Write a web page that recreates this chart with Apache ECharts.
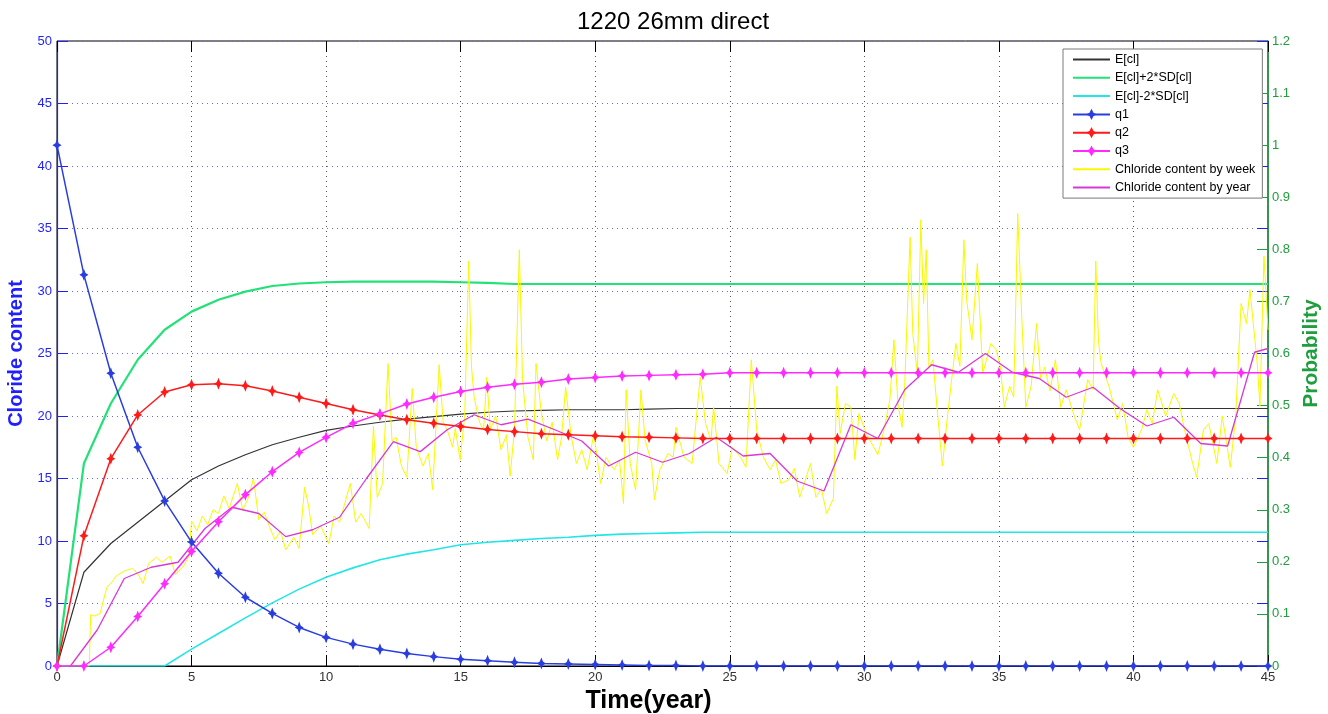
<!DOCTYPE html>
<html><head><meta charset="utf-8">
<script src="https://cdn.jsdelivr.net/npm/echarts@6/dist/echarts.min.js"></script>
<style>html,body{margin:0;padding:0;background:#fff}#c{width:1328px;height:714px}</style>
</head><body><div id="c"></div>
<script>
// ---------- data ----------
const years = [0,1,2,3,4,5,6,7,8,9,10,11,12,13,14,15,16,17,18,19,20,21,22,23,24,25,26,27,28,29,30,31,32,33,34,35,36,37,38,39,40,41,42,43,44,45];
// expected chloride and +/- 2SD (left axis)
const eCl      = [0,7.5,9.8,11.5,13.2,14.9,16.0,16.9,17.7,18.3,18.85,19.2,19.5,19.75,19.95,20.15,20.3,20.4,20.45,20.5,20.5,20.5,20.55,20.6,20.6,20.6,20.6,20.6,20.6,20.6,20.6,20.6,20.6,20.6,20.6,20.6,20.6,20.6,20.6,20.6,20.6,20.6,20.6,20.6,20.6,20.6];
const ePlus2SD = [0,16.2,21.0,24.5,26.9,28.35,29.3,29.95,30.4,30.6,30.7,30.75,30.75,30.75,30.75,30.7,30.65,30.56,30.56,30.56,30.56,30.56,30.56,30.56,30.56,30.56,30.56,30.56,30.56,30.56,30.56,30.56,30.56,30.56,30.56,30.56,30.56,30.56,30.56,30.56,30.56,30.56,30.56,30.56,30.56,30.56];
const eMinus2SD= [0,0,0,0,0,1.35,2.6,3.85,5.05,6.15,7.1,7.85,8.5,8.95,9.3,9.7,9.9,10.05,10.2,10.3,10.45,10.55,10.6,10.65,10.7,10.7,10.7,10.7,10.7,10.7,10.7,10.7,10.7,10.7,10.7,10.7,10.7,10.7,10.7,10.7,10.7,10.7,10.7,10.7,10.7,10.7];
// probabilities (right axis)
const q1 = [1.0,0.751,0.562,0.42,0.317,0.238,0.178,0.132,0.101,0.074,0.055,0.042,0.032,0.024,0.018,0.013,0.01,0.007,0.005,0.004,0.003,0.002,0.001,0.001,0,0,0,0,0,0,0,0,0,0,0,0,0,0,0,0,0,0,0,0,0,0];
const q2 = [0,0.25,0.398,0.482,0.526,0.54,0.542,0.538,0.528,0.516,0.504,0.492,0.482,0.473,0.466,0.46,0.454,0.45,0.446,0.444,0.442,0.44,0.439,0.438,0.437,0.437,0.437,0.437,0.437,0.437,0.437,0.437,0.437,0.437,0.437,0.437,0.437,0.437,0.437,0.437,0.437,0.437,0.437,0.437,0.437,0.437];
const q3 = [0,0,0.036,0.095,0.158,0.22,0.277,0.329,0.373,0.41,0.439,0.466,0.484,0.503,0.516,0.527,0.535,0.541,0.545,0.551,0.554,0.557,0.558,0.559,0.56,0.563,0.563,0.563,0.563,0.563,0.563,0.563,0.563,0.563,0.563,0.563,0.563,0.563,0.563,0.563,0.563,0.563,0.563,0.563,0.563,0.563];
// chloride content by year (vertices at mid-year)
const yearT = [0.5,1.5,2.5,3.5,4.5,5.5,6.5,7.5,8.5,9.5,10.5,11.5,12.5,13.5,14.5,15.5,16.5,17.5,18.5,19.5,20.5,21.5,22.5,23.5,24.5,25.5,26.5,27.5,28.5,29.5,30.5,31.5,32.5,33.5,34.5,35.5,36.5,37.5,38.5,39.5,40.5,41.5,42.5,43.5,44.5,45];
const yearV = [0,2.9,7.0,7.9,8.3,11.0,12.7,12.2,10.35,10.9,11.9,15.0,17.95,17.15,18.9,20.1,19.3,19.75,18.9,18.0,16.0,17.1,16.3,17.0,18.3,16.8,17.0,14.8,14.0,19.3,18.2,22.1,24.1,23.5,25.0,23.5,23.0,21.5,22.3,20.6,19.2,19.9,17.8,17.6,25.1,25.4];
// chloride content by week ([time, value])
const weekly = [[0,0],[1.2,0],[1.25,4.1],[1.4,4.0],[1.6,4.2],[1.85,6.3],[2.0,6.6],[2.2,7.2],[2.5,7.6],[2.8,7.8],[3.0,7.4],[3.2,6.6],[3.4,8.2],[3.7,8.7],[3.9,8.3],[4.2,8.8],[4.4,7.3],[4.7,8.0],[4.9,8.8],[5.0,11.6],[5.2,10.8],[5.4,12.0],[5.6,11.3],[5.8,12.5],[6.0,12.2],[6.2,13.6],[6.4,12.6],[6.7,14.6],[6.9,12.5],[7.1,13.4],[7.3,15.0],[7.5,11.7],[7.7,12.3],[7.9,11.1],[8.1,10.1],[8.3,10.8],[8.5,9.3],[8.8,10.3],[9.0,9.4],[9.2,14.3],[9.35,12.8],[9.5,10.5],[9.8,11.2],[10.1,9.8],[10.3,12.0],[10.5,11.5],[10.9,14.6],[11.1,11.5],[11.3,12.2],[11.6,11.0],[11.76,19.2],[11.9,13.5],[12.1,14.6],[12.3,24.2],[12.45,18.0],[12.6,18.3],[12.8,16.0],[13.0,15.1],[13.2,22.2],[13.35,17.5],[13.6,16.0],[13.8,17.0],[13.96,14.1],[14.2,24.1],[14.35,19.5],[14.5,18.9],[14.7,17.5],[14.8,19.0],[14.98,16.5],[15.15,20.0],[15.3,32.4],[15.4,24.0],[15.5,21.5],[15.7,19.5],[15.85,18.9],[15.97,23.1],[16.1,18.9],[16.3,20.0],[16.5,17.3],[16.7,18.5],[16.84,15.2],[17.0,19.0],[17.18,33.3],[17.3,22.9],[17.5,18.3],[17.7,16.5],[17.8,24.2],[18.0,20.2],[18.2,18.0],[18.4,19.5],[18.6,16.5],[18.75,18.3],[18.9,22.3],[19.1,18.5],[19.3,16.2],[19.5,17.3],[19.7,15.7],[19.95,18.6],[20.2,14.6],[20.4,16.7],[20.7,15.7],[20.9,16.5],[21.05,13.0],[21.15,22.1],[21.3,16.2],[21.5,14.1],[21.7,22.1],[21.85,18.1],[22.1,16.2],[22.2,13.3],[22.4,15.7],[22.7,17.0],[22.9,16.7],[23.0,19.1],[23.3,16.7],[23.6,16.2],[23.9,23.1],[24.1,19.4],[24.3,18.0],[24.4,20.7],[24.6,16.2],[24.9,15.4],[25.1,17.5],[25.4,16.7],[25.6,15.9],[25.8,24.5],[26.0,18.9],[26.25,16.7],[26.5,15.7],[26.7,16.5],[26.9,14.6],[27.2,14.9],[27.4,15.8],[27.6,13.5],[28.0,16.2],[28.2,13.5],[28.4,14.2],[28.6,12.2],[28.85,13.4],[28.98,22.4],[29.1,18.6],[29.3,21.0],[29.5,20.7],[29.65,16.5],[29.8,20.2],[30.0,19.0],[30.2,18.1],[30.5,16.9],[30.7,18.6],[30.95,21.3],[31.1,26.1],[31.25,21.0],[31.4,19.1],[31.5,22.4],[31.7,34.3],[31.8,26.6],[31.97,23.4],[32.1,35.7],[32.2,29.0],[32.3,33.3],[32.4,23.9],[32.55,24.5],[32.7,20.7],[32.9,16.0],[33.1,20.2],[33.4,25.8],[33.55,24.0],[33.7,34.1],[33.8,29.3],[34.0,26.1],[34.2,32.2],[34.4,23.4],[34.7,25.8],[34.9,25.3],[35.05,24.0],[35.2,20.7],[35.4,22.4],[35.55,21.5],[35.7,36.2],[35.85,27.9],[36.0,20.7],[36.2,22.4],[36.4,27.4],[36.55,23.0],[36.7,23.9],[36.9,22.0],[37.1,24.5],[37.3,20.7],[37.5,22.1],[37.8,20.0],[38.0,18.9],[38.3,22.9],[38.5,22.1],[38.6,32.4],[38.7,26.0],[38.8,24.2],[39.1,22.3],[39.4,19.7],[39.6,21.0],[39.8,18.3],[40.0,17.5],[40.3,18.9],[40.5,20.5],[40.7,19.4],[40.9,22.1],[41.2,20.0],[41.5,21.8],[41.7,21.0],[41.9,18.9],[42.2,16.2],[42.35,15.1],[42.6,18.9],[42.8,19.4],[43.1,16.2],[43.3,20.0],[43.6,15.9],[43.8,20.0],[44.0,29.0],[44.2,27.4],[44.33,30.1],[44.6,24.2],[44.7,20.8],[44.85,32.8],[45.0,26.9]];
const legendNames = ['E[cl]', 'E[cl]+2*SD[cl]', 'E[cl]-2*SD[cl]', 'q1', 'q2', 'q3', 'Chloride content by week', 'Chloride content by year'];
const markerSeries = ['q1', 'q2', 'q3'];

// ---------- chart ----------
const FONT = "'Liberation Sans', Arial, sans-serif";
const BLUE = '#1f1fff', GREEN = '#1e9e3c';
const pair = (xs, ys) => xs.map((x, i) => [x, ys[i]]);
const star = 'path://M0,-6 L1.8,-1.8 L5,0 L1.8,1.8 L0,6 L-1.8,1.8 L-5,0 L-1.8,-1.8 Z';

const chart = echarts.init(document.getElementById('c'), null, {renderer: 'canvas'});
const lineS = (name, data, color, width, yIdx, withSym) => ({
  name, type: 'line', data, yAxisIndex: yIdx, xAxisIndex: 0,
  symbol: withSym ? star : 'none', symbolSize: [9, 12], showSymbol: !!withSym,
  itemStyle: {color}, lineStyle: {color, width}, animation: false, silent: true, z: 2
});
const gridRect = {left: 57, right: 60, top: 41, bottom: 48, outerBoundsMode: 'none', containLabel: false};

chart.setOption({
  animation: false,
  textStyle: {fontFamily: FONT},
  title: {text: '1220 26mm direct', left: 572, top: 5,
    textStyle: {fontFamily: FONT, fontSize: 24, fontWeight: 'normal', color: '#000'}},
  grid: [
    Object.assign({show: true, borderColor: '#000', borderWidth: 1, backgroundColor: '#fff'}, gridRect),
    Object.assign({show: false}, gridRect)
  ],
  legend: {
    orient: 'vertical', left: 1063, top: 49, padding: [4, 7, 4, 9], itemGap: 5.3,
    itemWidth: 37, itemHeight: 14, backgroundColor: '#fff', borderColor: '#7a7a7a', borderWidth: 1,
    textStyle: {fontFamily: FONT, fontSize: 12.5, color: '#000'},
    data: legendNames.map(n => markerSeries.includes(n) ? {name: n} : {name: n, itemStyle: {opacity: 0}})
  },
  xAxis: [{
    type: 'value', min: 0, max: 45, interval: 5, gridIndex: 0,
    name: 'Time(year)', nameLocation: 'middle', nameGap: 23,
    nameTextStyle: {fontFamily: FONT, fontSize: 25, fontWeight: 'bold', color: '#000', padding: [0, 28, 0, 0]},
    axisLine: {onZero: false, lineStyle: {color: '#000', width: 1}},
    axisTick: {inside: true, length: 11, lineStyle: {color: '#000'}},
    axisLabel: {fontFamily: FONT, fontSize: 13, color: '#333', margin: 5},
    splitLine: {show: true, lineStyle: {type: [1, 4], color: '#555', width: 1}}
  }, {
    type: 'value', min: 0, max: 45, interval: 5, position: 'top', gridIndex: 0,
    axisLine: {show: false, onZero: false}, axisLabel: {show: false}, splitLine: {show: false},
    axisTick: {inside: true, length: 11, lineStyle: {color: '#000'}}
  }, {
    type: 'value', min: 0, max: 45, gridIndex: 1, show: false, axisLine: {onZero: false}
  }],
  yAxis: [{
    type: 'value', min: 0, max: 50, interval: 5, position: 'left', gridIndex: 0,
    name: 'Cloride content', nameLocation: 'middle', nameRotate: 90, nameGap: 28,
    nameTextStyle: {fontFamily: FONT, fontSize: 20, fontWeight: 'bold', color: BLUE},
    axisLine: {show: true, onZero: false, lineStyle: {color: BLUE, width: 1.2}},
    axisTick: {show: true, inside: true, length: 11, lineStyle: {color: BLUE}},
    axisLabel: {fontFamily: FONT, fontSize: 13, color: BLUE, margin: 5},
    splitLine: {show: true, lineStyle: {type: [1, 4], color: '#6a6ae0', width: 1}}
  }, {
    type: 'value', min: 0, max: 1.2, interval: 0.1, position: 'right', gridIndex: 0,
    name: 'Probability', nameLocation: 'middle', nameRotate: 90, nameGap: 18,
    nameTextStyle: {fontFamily: FONT, fontSize: 21, fontWeight: 'bold', color: GREEN},
    axisLine: {show: true, onZero: false, lineStyle: {color: GREEN, width: 1.5}},
    axisTick: {show: true, inside: true, length: 11, lineStyle: {color: GREEN}},
    axisLabel: {fontFamily: FONT, fontSize: 13, color: GREEN, margin: 4},
    splitLine: {show: false}
  }, {
    type: 'value', min: 0, max: 50, interval: 5, position: 'right', gridIndex: 1,
    axisLine: {show: false, onZero: false}, axisLabel: {show: false}, splitLine: {show: false},
    axisTick: {show: true, inside: true, length: 11, lineStyle: {color: BLUE}}
  }],
  series: [
    lineS('E[cl]', pair(years, eCl), '#333333', 1.2, 0, false),
    lineS('E[cl]+2*SD[cl]', pair(years, ePlus2SD), '#22e277', 2.2, 0, false),
    lineS('E[cl]-2*SD[cl]', pair(years, eMinus2SD), '#22e6e6', 1.6, 0, false),
    lineS('Chloride content by week', weekly, '#f8f800', 1, 0, false),
    lineS('Chloride content by year', pair(yearT, yearV), '#d838d8', 1.3, 0, false),
    lineS('q1', pair(years, q1), '#2a3ee0', 1.5, 1, true),
    lineS('q2', pair(years, q2), '#ff1a1a', 1.5, 1, true),
    lineS('q3', pair(years, q3), '#ff2aff', 1.5, 1, true)
  ]
});
</script>
</body></html>
